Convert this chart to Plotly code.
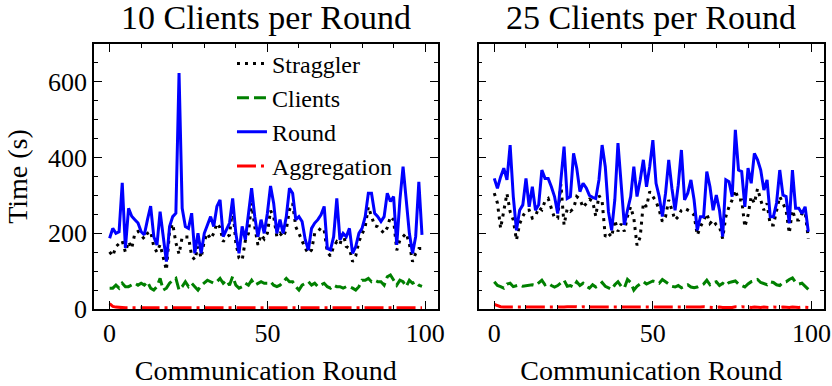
import plotly.graph_objects as go

rounds = list(range(100))

# ---- 10 clients per round ----
straggler_10 = [151,140,165,172,180,150,178,160,200,205, 195,185,200,205,165,150,170,140,103,205,
                225,175,145,190,190,190,140,130,165,135, 180,200,185,200,226,215,178,190,195,270,
                175,135,129,180,200,280,217,169,196,185, 200,260,244,191,200,190,210,262,279,217,
                200,182,160,147,156,200,204,215,208,150, 140,165,178,170,200,165,160,125,140,178,
                200,217,270,244,220,217,208,200,215,244, 235,155,182,191,200,172,125,147,160,160]
clients_10 = [55,55,63,55,68,59,59,63,68,63, 68,63,72,55,50,59,81,50,55,68,
              76,81,50,59,72,59,68,59,50,62, 68,76,72,68,72,81,68,76,63,86,
              63,55,59,68,63,76,63,68,72,68, 68,72,63,59,63,72,81,72,72,59,
              50,63,68,72,63,68,59,63,68,59, 55,63,59,59,55,59,59,55,50,59,
              76,76,81,72,76,72,72,63,85,90, 76,63,76,72,59,76,68,72,63,60]
round_10 = [187,213,200,204,333,161,266,245,236,227, 204,196,236,272,191,169,257,183,125,218,
            244,253,623,266,218,213,253,147,200,147, 200,222,244,218,271,288,191,209,227,292,
            200,147,218,183,244,319,244,191,236,200, 253,325,279,200,236,200,244,319,306,236,
            244,231,183,156,213,227,236,249,271,160, 156,191,292,183,200,191,213,147,165,200,
            213,244,306,306,253,244,231,244,306,284, 297,169,288,376,288,200,147,191,336,196]
aggregation_10 = [14,7,5,4,4,3,3,4,3,3, 4,3,3,3,4,3,3,3,4,3, 3,4,3,3,3,4,3,3,3,3,
                  4,3,3,3,4,3,3,4,3,3, 3,3,4,3,3,3,4,3,3,3, 4,3,3,3,3,4,3,3,3,4,
                  3,3,3,4,3,3,3,3,4,3, 3,4,3,3,3,3,4,3,3,3, 4,3,3,3,4,3,3,3,3,4,
                  3,3,4,3,3,3,4,3,3,3]

# ---- 25 clients per round ----
straggler_25 = [306,280,213,261,305,257,235,182,225,245, 260,261,240,245,268,262,285,292,265,240,
                240,330,222,265,258,265,297,290,268,280, 290,285,245,300,285,191,200,190,235,205,
                225,205,245,270,240,168,190,280,270,310, 297,284,261,231,244,288,261,235,244,261,
                266,261,257,248,195,217,235,252,226,235, 222,217,186,244,270,288,314,288,288,217,
                248,297,279,318,288,261,279,222,222,261, 297,279,261,200,261,235,235,252,257,186]
clients_25 = [72,62,59,55,66,68,59,62,64,60, 62,63,64,62,70,76,64,68,62,58,
              62,68,76,60,62,58,72,62,68,60, 55,64,58,62,70,60,56,52,64,72,
              60,55,78,70,50,60,66,72,66,70, 74,72,68,78,72,64,60,58,62,56,
              60,64,58,56,58,62,66,76,64,70, 72,62,68,62,70,72,74,66,62,58,
              66,72,74,78,70,66,64,72,70,64, 62,70,72,78,82,70,66,68,60,52]
round_25 = [345,319,349,372,341,433,297,208,261,275, 345,270,323,261,275,367,345,345,323,297,
            252,345,429,292,297,411,372,310,332,320, 300,295,292,341,433,376,257,208,288,438,
            336,222,261,297,376,297,341,394,323,376, 446,332,297,244,306,394,319,261,327,420,
            288,306,341,288,208,244,244,363,323,261, 301,261,191,341,336,297,473,367,363,270,
            372,332,411,394,367,314,341,244,244,280, 367,301,297,226,367,266,266,252,270,204]
aggregation_25 = [12,8,6,5,5,4,5,4,4,5, 4,4,5,4,4,5,4,4,4,5, 4,5,5,6,6,7,6,5,6,5,
                  5,4,5,4,5,4,4,5,4,4, 5,4,4,5,4,5,4,4,5,4, 4,5,4,4,5,4,4,5,4,4,
                  5,4,4,5,4,5,6,5,5,4, 4,5,4,4,5,4,6,5,6,5, 4,4,5,4,4,5,4,4,5,4,
                  4,5,4,4,5,4,4,5,4,4]

panel_titles = ["10 Clients per Round", "25 Clients per Round"]
series_names = ["Straggler", "Clients", "Round", "Aggregation"]
series_styles = [("#000000", "3px,5px"), ("#008000", "12px,5px"),
                 ("#0000ff", "solid"), ("#ff0000", "19px,5px,3px,5px")]

FONT = "Liberation Serif"
LW = 3

fig = go.Figure()
panels = [
    ([straggler_10, clients_10, round_10, aggregation_10], "x", "y", True),
    ([straggler_25, clients_25, round_25, aggregation_25], "x2", "y2", False),
]
for data, xa, ya, show in panels:
    for name, vals, (col, dash) in zip(series_names, data, series_styles):
        fig.add_trace(go.Scatter(
            x=rounds, y=vals, mode="lines", name=name, showlegend=show,
            line=dict(color=col, width=LW, dash=dash),
            xaxis=xa, yaxis=ya, cliponaxis=True))

def xaxis_cfg(domain, anchor):
    return dict(domain=domain, anchor=anchor, range=[-4.95, 103.95], automargin=False,
                tick0=0, dtick=50, ticks="inside", ticklen=8, tickwidth=1.3,
                tickcolor="black", showline=True, linecolor="black", linewidth=1.6,
                mirror="allticks", showgrid=False, zeroline=False,
                minor=dict(dtick=10, tick0=0, ticks="inside", ticklen=4,
                           tickwidth=1.1, tickcolor="black", showgrid=False),
                tickfont=dict(family=FONT, size=26, color="black"),
                title=dict(text="Communication Round", standoff=14,
                           font=dict(family=FONT, size=28, color="black")))

def yaxis_cfg(domain_anchor, show_labels, title):
    d = dict(anchor=domain_anchor, range=[0, 700], tick0=0, dtick=200, automargin=False,
             ticks="inside", ticklen=8, tickwidth=1.3, tickcolor="black",
             showline=True, linecolor="black", linewidth=1.6, mirror="allticks",
             showgrid=False, zeroline=False, showticklabels=show_labels,
             minor=dict(dtick=50, tick0=0, ticks="inside", ticklen=4,
                        tickwidth=1.1, tickcolor="black", showgrid=False),
             tickfont=dict(family=FONT, size=26, color="black"))
    if title:
        d["title"] = dict(text=title, standoff=12,
                          font=dict(family=FONT, size=28, color="black"))
    return d

dom_left = [0, 0.4707]
dom_right = [0.5268, 1]

fig.update_layout(
    width=832, height=386,
    margin=dict(l=94, r=8, t=44, b=77),
    paper_bgcolor="white", plot_bgcolor="white",
    font=dict(family=FONT, color="black"),
    xaxis=xaxis_cfg(dom_left, "y"),
    xaxis2=xaxis_cfg(dom_right, "y2"),
    yaxis=yaxis_cfg("x", True, "Time (s)"),
    yaxis2=yaxis_cfg("x2", False, None),
    legend=dict(x=0.189, y=1.01, xanchor="left", yanchor="top",
                bgcolor="rgba(0,0,0,0)", borderwidth=0,
                font=dict(family=FONT, size=24, color="black"),
                tracegroupgap=0),
    showlegend=True,
)

for title, dom in zip(panel_titles, [dom_left, dom_right]):
    fig.add_annotation(text=title, x=(dom[0] + dom[1]) / 2, y=1,
                       xref="paper", yref="paper", xanchor="center", yanchor="bottom",
                       yshift=6, showarrow=False,
                       font=dict(family=FONT, size=34, color="black"))

fig.write_html("out.html", config={"displayModeBar": False},
               post_script="document.body.style.margin='0px';document.body.style.overflow='hidden';")
